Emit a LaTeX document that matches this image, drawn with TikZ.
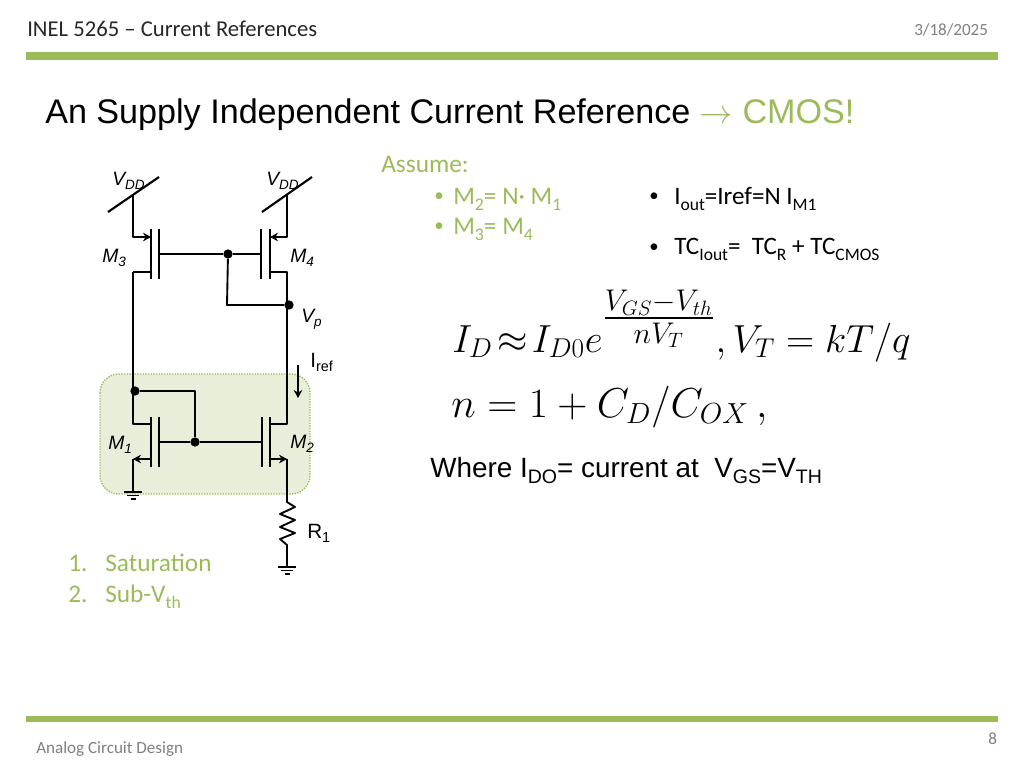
\documentclass[tikz,border=0pt]{standalone}
\usepackage{amsmath,amsfonts,amssymb}
\usepackage{fontspec}
\setmainfont{Carlito}
\newfontfamily\arialfont{Liberation Sans}
\usetikzlibrary{arrows.meta}
\definecolor{slidegreen}{HTML}{9BBB59}
\definecolor{regionfill}{HTML}{E9EEDB}
\definecolor{headgray}{HTML}{262626}
\definecolor{footgray}{HTML}{7F7F7F}
\newcommand{\itemlead}[2]{\makebox[#1][l]{#2}}
\newcommand{\itemdot}{\raisebox{0.08em}{\scalebox{0.75}{•}}}
\newcommand{\lsub}[1]{\raisebox{-0.24em}{\scalebox{0.7}{#1}}}
\tikzset{
  wire/.style={line width=1.4pt,black,line join=round},
  bar/.style={line width=1.6pt,black},
  flow/.style={wire,-{Stealth[length=6pt,width=6.5pt]}},
  junction/.style={circle,fill=black,inner sep=0pt,minimum size=7pt},
  txt/.style={anchor=base west,inner sep=0pt,text=black},
  devlabel/.style={txt,font=\arialfont\fontsize{14.5}{16}\selectfont\itshape},
  sidelabel/.style={txt,font=\arialfont\fontsize{15.5}{18}\selectfont},
  greentxt/.style={txt,text=slidegreen,font=\fontsize{19}{22}\selectfont},
  blacktxt/.style={txt,font=\fontsize{18.8}{22}\selectfont},
  smalltxt/.style={txt,text=footgray,font=\fontsize{12.8}{15}\selectfont},
  mathtxt/.style={txt,font=\fontsize{25}{30}\selectfont},
  gnd/.pic={\draw[wire] (-9,0) -- (9,0) (-6,3.5) -- (6,3.5) (-2.5,7) -- (2.5,7);},
}
\begin{document}
\begin{tikzpicture}[x=0.75pt,y=-0.75pt]
    \useasboundingbox (0,0) rectangle (1024,768);

    % slide frame
    \fill[slidegreen] (26,52) rectangle (998,60);
    \fill[slidegreen] (26,716) rectangle (998,722);
    \node[txt,text=headgray,font=\fontsize{17}{20}\selectfont] at (27,36) (header) {INEL 5265 – Current References};
    \node[smalltxt] at (914,35) (date) {3/18/2025};
    \node[smalltxt] at (36,753) (footer) {Analog Circuit Design};
    \node[smalltxt] at (988,744) (page) {8};
    \node[txt,font=\arialfont\fontsize{25.6}{30}\selectfont] at (45,123) (title) {An Supply Independent Current Reference \textcolor{slidegreen}{$\rightarrow$ CMOS!}};

    % shaded pair
    \draw[fill=regionfill,draw=slidegreen,densely dotted,line width=1pt,rounded corners=14pt] (100,374) rectangle (310,494);

    % M3 and M4
    \coordinate (vddl) at (133,195);
    \coordinate (vddr) at (287,195);
    \coordinate (m3d) at (133,272);
    \coordinate (m4d) at (287,272);
    \coordinate (m3g) at (159,254);
    \coordinate (m4g) at (261,254);
    \node[junction] at (228,254) (gtop) {};
    \node[junction] at (289,305) (vp) {};
    \coordinate (fbk) at (227,305);
    \draw[bar] (108,212) -- (159,177);
    \draw[bar] (262,212) -- (312,177);
    \draw[bar] (151,229) -- (151,279);
    \draw[bar] (159,229) -- (159,279);
    \draw[bar] (261,229) -- (261,279);
    \draw[bar] (270,229) -- (270,279);
    \draw[flow] (vddl) |- (151,237);
    \draw[flow] (vddr) |- (270,237);
    \draw[wire] (m3g) -- (gtop) -- (m4g);
    \draw[wire] (gtop) -- (fbk) -- (vp);
    \draw[wire] (151,272) -- (m3d);
    \draw[wire] (270,272) -- (m4d) -- (287,305);

    % M1 and M2
    \node[junction] at (135,391) (dtop) {};
    \node[junction] at (195,442) (gbot) {};
    \coordinate (m1g) at (159,442);
    \coordinate (m2g) at (262,442);
    \coordinate (m1d) at (133,424);
    \coordinate (m2d) at (287,424);
    \coordinate (m1s) at (133,459);
    \coordinate (m2s) at (287,459);
    \draw[bar] (151,417) -- (151,467);
    \draw[bar] (159,417) -- (159,467);
    \draw[bar] (262,417) -- (262,467);
    \draw[bar] (270,417) -- (270,467);
    \draw[wire] (m3d) -- (m1d) -- (151,424);
    \draw[wire] (287,305) -- (m2d) -- (270,424);
    \draw[wire] (dtop) -| (gbot);
    \draw[wire] (m1g) -- (gbot) -- (m2g);
    \draw[flow] (151,459) -- (m1s);
    \draw[flow] (270,459) -- (m2s);
    \coordinate (gndl) at (133,492);
    \coordinate (rtop) at (287,502);
    \coordinate (rbot) at (287,545);
    \coordinate (gndr) at (287,567);
    \draw[wire] (m1s) -- (gndl);
    \draw[wire] (m2s) -- (rtop) -- (295,507) -- (280,514) -- (295,520) -- (280,527) -- (295,533) -- (280,539) -- (rbot) -- (gndr);
    \pic at (gndl) {gnd};
    \pic at (gndr) {gnd};
    \draw[flow] (298,365) -- (298,398);

    % circuit labels
    \node[devlabel] at (112,185) (vddla) {V\lsub{DD}};
    \node[devlabel] at (266,185) (vddra) {V\lsub{DD}};
    \node[devlabel] at (102,262) (m3la) {M\lsub{3}};
    \node[devlabel] at (290,262) (m4la) {M\lsub{4}};
    \node[devlabel] at (301,322) (vpla) {V\lsub{p}};
    \node[devlabel] at (108,449) (m1la) {M\lsub{1}};
    \node[devlabel] at (290,448) (m2la) {M\lsub{2}};
    \node[sidelabel] at (310,367) (iref) {I\lsub{ref}};
    \node[sidelabel] at (307,538) (r1) {R\lsub{1}};

    % notes
    \node[greentxt] at (68,571) (sat1) {\itemlead{27.75pt}{1.}Saturation};
    \node[greentxt] at (68,602) (sat2) {\itemlead{27.75pt}{2.}Sub-V\lsub{th}};
    \node[greentxt] at (381,172) (assume) {Assume:};
    \node[greentxt] at (434,204) (as1) {\itemlead{14.25pt}{\itemdot}M\lsub{2}= N· M\lsub{1}};
    \node[greentxt] at (434,234) (as2) {\itemlead{14.25pt}{\itemdot}M\lsub{3}= M\lsub{4}};
    \node[blacktxt] at (649,204) (out) {\itemlead{18.75pt}{\itemdot}I\lsub{out}=Iref=N I\lsub{M1}};
    \node[blacktxt] at (649,254) (tc) {\itemlead{18.75pt}{\itemdot}TC\lsub{Iout}=\ \ TC\lsub{R} + TC\lsub{CMOS}};

    % equations
    \node[mathtxt] at (452,352) (eqid) {\scalebox{1.18}{$I_D\!\approx\!I_{D0}e^{\scalebox{1.1}{$\frac{V_{GS}-V_{th}}{nV_T}$}},V_T = kT/q$}};
    \node[mathtxt] at (451,417) (eqn) {\scalebox{1.26}{$n = 1 + C_D/C_{OX}\,,$}};
    \node[txt,font=\arialfont\fontsize{20.9}{25}\selectfont] at (430,477) (where) {Where I\lsub{DO}= current at\ \ V\lsub{GS}=V\lsub{TH}};
\end{tikzpicture}
\end{document}
